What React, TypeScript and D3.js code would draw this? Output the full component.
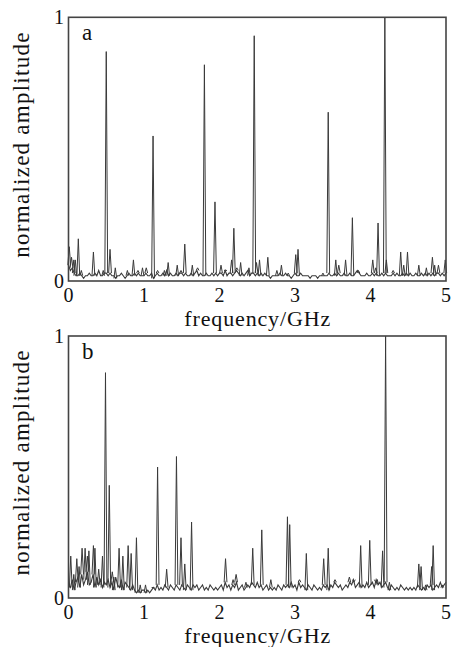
import React from 'react';
import * as d3 from 'd3';

// frequency grid step for the noise floor (GHz)
const STEP = 0.025;

const xTicks = ['0', '1', '2', '3', '4', '5'];
const yTicks = ['0', '1'];

// panel a: noise floor, 0 .. 5 GHz every 0.025
const noiseA = [
  0.06, 0.04, 0.05, 0.03, 0.02, 0.02, 0.03, 0.02, 0.01, 0.02, 0.02, 0.03, 0.02, 0.02, 0.03, 0.02, 0.04, 0.02, 0.02, 0.03,
  0.03, 0.02, 0.03, 0.02, 0.02, 0.01, 0.02, 0.02, 0.03, 0.02, 0.01, 0.02, 0.03, 0.02, 0.02, 0.03, 0.02, 0.03, 0.02, 0.02,
  0.02, 0.03, 0.02, 0.02, 0.03, 0.01, 0.02, 0.03, 0.02, 0.02, 0.03, 0.02, 0.04, 0.02, 0.03, 0.02, 0.02, 0.03, 0.02, 0.03,
  0.03, 0.02, 0.03, 0.02, 0.02, 0.03, 0.02, 0.03, 0.04, 0.02, 0.03, 0.02, 0.02, 0.03, 0.02, 0.02, 0.03, 0.02, 0.03, 0.02,
  0.03, 0.03, 0.02, 0.04, 0.02, 0.03, 0.03, 0.02, 0.03, 0.04, 0.03, 0.02, 0.03, 0.02, 0.03, 0.04, 0.02, 0.03, 0.03, 0.02,
  0.03, 0.02, 0.03, 0.02, 0.03, 0.02, 0.02, 0.01, 0.02, 0.02, 0.02, 0.02, 0.03, 0.02, 0.02, 0.03, 0.02, 0.02, 0.01, 0.02,
  0.03, 0.02, 0.02, 0.03, 0.02, 0.02, 0.02, 0.02, 0.01, 0.02, 0.02, 0.02, 0.01, 0.02, 0.02, 0.02, 0.02, 0.02, 0.03, 0.02,
  0.02, 0.03, 0.02, 0.03, 0.02, 0.02, 0.03, 0.02, 0.02, 0.03, 0.02, 0.02, 0.03, 0.04, 0.03, 0.02, 0.02, 0.02, 0.03, 0.02,
  0.02, 0.03, 0.02, 0.03, 0.02, 0.02, 0.03, 0.02, 0.03, 0.02, 0.02, 0.02, 0.03, 0.02, 0.03, 0.02, 0.02, 0.03, 0.02, 0.03,
  0.02, 0.03, 0.02, 0.02, 0.03, 0.02, 0.02, 0.03, 0.02, 0.03, 0.02, 0.03, 0.02, 0.03, 0.02, 0.03, 0.03, 0.02, 0.03, 0.02, 0.03,
];

// panel a: spectral lines [GHz, amplitude]
const peaksA: [number, number][] = [
  [0.01, 0.13], [0.04, 0.09], [0.07, 0.08], [0.09, 0.08], [0.13, 0.16], [0.17, 0.04], [0.33, 0.11], [0.46, 0.04],
  [0.5, 0.87], [0.55, 0.12], [0.62, 0.05], [0.78, 0.04], [0.86, 0.08], [0.92, 0.04], [0.98, 0.05], [1.03, 0.05],
  [1.12, 0.55], [1.18, 0.04], [1.27, 0.04], [1.32, 0.07], [1.44, 0.06], [1.49, 0.04], [1.54, 0.14], [1.64, 0.06],
  [1.71, 0.05], [1.8, 0.82], [1.94, 0.3], [2.02, 0.06], [2.08, 0.04], [2.16, 0.08], [2.19, 0.2], [2.23, 0.05],
  [2.28, 0.07], [2.39, 0.05], [2.46, 0.93], [2.49, 0.07], [2.53, 0.08], [2.64, 0.09], [2.76, 0.04], [2.82, 0.06],
  [2.91, 0.03], [3.01, 0.1], [3.04, 0.12], [3.37, 0.03], [3.44, 0.64], [3.54, 0.08], [3.58, 0.06], [3.67, 0.08],
  [3.76, 0.24], [3.84, 0.04], [4.03, 0.08], [4.07, 0.05], [4.1, 0.22], [4.19, 1.0], [4.21, 0.08], [4.3, 0.04],
  [4.4, 0.11], [4.44, 0.06], [4.49, 0.11], [4.64, 0.06], [4.74, 0.05], [4.82, 0.09], [4.85, 0.06], [4.9, 0.06],
  [4.99, 0.08],
];

// panel b: noise floor, 0 .. 5 GHz every 0.025
const noiseB = [
  0.05, 0.04, 0.07, 0.03, 0.06, 0.08, 0.04, 0.09, 0.05, 0.07, 0.1, 0.05, 0.06, 0.09, 0.04, 0.08, 0.05, 0.07, 0.04, 0.06,
  0.05, 0.07, 0.04, 0.06, 0.03, 0.08, 0.05, 0.04, 0.07, 0.03, 0.06, 0.05, 0.04, 0.03, 0.05, 0.03, 0.02, 0.03, 0.02, 0.03,
  0.03, 0.02, 0.03, 0.02, 0.03, 0.04, 0.03, 0.05, 0.03, 0.04, 0.03, 0.05, 0.04, 0.03, 0.05, 0.04, 0.03, 0.05, 0.04, 0.03,
  0.05, 0.04, 0.03, 0.05, 0.04, 0.03, 0.05, 0.04, 0.05, 0.03, 0.04, 0.05, 0.03, 0.04, 0.03, 0.05, 0.04, 0.03, 0.04, 0.03,
  0.04, 0.05, 0.03, 0.06, 0.04, 0.05, 0.03, 0.05, 0.04, 0.06, 0.03, 0.04, 0.05, 0.03, 0.04, 0.05, 0.04, 0.06, 0.05, 0.04,
  0.06, 0.04, 0.05, 0.03, 0.04, 0.05, 0.03, 0.04, 0.03, 0.04, 0.03, 0.05, 0.04, 0.03, 0.05, 0.04, 0.05, 0.04, 0.06, 0.04,
  0.05, 0.03, 0.06, 0.04, 0.05, 0.04, 0.03, 0.05, 0.04, 0.03, 0.05, 0.04, 0.03, 0.04, 0.03, 0.05, 0.04, 0.05, 0.03, 0.05,
  0.04, 0.06, 0.05, 0.04, 0.05, 0.03, 0.04, 0.05, 0.04, 0.06, 0.05, 0.07, 0.04, 0.05, 0.06, 0.04, 0.05, 0.04, 0.06, 0.04,
  0.05, 0.06, 0.04, 0.07, 0.05, 0.06, 0.04, 0.05, 0.06, 0.04, 0.03, 0.05, 0.04, 0.03, 0.04, 0.03, 0.05, 0.04, 0.03, 0.04,
  0.03, 0.04, 0.03, 0.04, 0.03, 0.05, 0.04, 0.03, 0.04, 0.03, 0.05, 0.04, 0.05, 0.03, 0.04, 0.05, 0.04, 0.06, 0.04, 0.05, 0.06,
];

// panel b: spectral lines [GHz, amplitude]
const peaksB: [number, number][] = [
  [0.03, 0.16], [0.07, 0.09], [0.11, 0.15], [0.14, 0.12], [0.18, 0.19], [0.22, 0.19], [0.25, 0.16], [0.27, 0.18],
  [0.33, 0.2], [0.35, 0.19], [0.4, 0.11], [0.45, 0.16], [0.49, 0.86], [0.54, 0.43], [0.58, 0.1], [0.6, 0.08],
  [0.67, 0.19], [0.72, 0.16], [0.79, 0.2], [0.83, 0.17], [0.9, 0.23], [0.95, 0.05], [1.02, 0.05], [1.12, 0.04],
  [1.18, 0.5], [1.3, 0.11], [1.43, 0.54], [1.49, 0.23], [1.54, 0.13], [1.63, 0.29], [2.08, 0.15], [2.18, 0.07],
  [2.22, 0.09], [2.35, 0.06], [2.44, 0.19], [2.56, 0.26], [2.68, 0.07], [2.9, 0.31], [2.93, 0.28], [3.06, 0.07],
  [3.15, 0.17], [3.38, 0.15], [3.44, 0.19], [3.53, 0.07], [3.72, 0.08], [3.78, 0.06], [3.87, 0.2], [3.99, 0.22],
  [4.07, 0.06], [4.09, 0.07], [4.16, 0.18], [4.2, 1.0], [4.25, 0.06], [4.64, 0.13], [4.67, 0.12], [4.73, 0.05],
  [4.81, 0.12], [4.83, 0.2], [4.95, 0.05],
];

const W = 453;
const H = 647;
const LEFT = 68.5;
const RIGHT = 446;
const SERIF = '"Liberation Serif", "Times New Roman", Times, serif';
const INK = '#3a3a3a';

type PanelProps = {
  top: number;
  bottom: number;
  letter: string;
  noise: number[];
  peaks: [number, number][];
};

const Panel = ({ top, bottom, letter, noise, peaks }: PanelProps) => {
  const x = d3.scaleLinear().domain([0, 5]).range([LEFT, RIGHT]);
  const y = d3.scaleLinear().domain([0, 1]).range([bottom, top]);

  const line = d3
    .line<number>()
    .x((_, i) => x(i * STEP))
    .y(d => y(d));

  // each spectral line: narrow spike standing on the noise floor under it
  const spike = ([f, a]: [number, number]) => {
    const base = noise[Math.round(f / STEP)] ?? 0.02;
    const p = d3.path();
    p.moveTo(x(f) - 1.4, y(base));
    p.lineTo(x(f), y(a));
    p.lineTo(x(f) + 1.4, y(base));
    return p.toString();
  };

  return (
    <g>
      <path d={line(noise) ?? ''} fill="none" stroke={INK} strokeWidth={1.1} />
      {peaks.map((d, i) => (
        <path key={i} d={spike(d)} fill="none" stroke={INK} strokeWidth={1} strokeLinejoin="miter" />
      ))}
      <rect
        x={LEFT}
        y={top}
        width={RIGHT - LEFT}
        height={bottom - top}
        fill="none"
        stroke="#444"
        strokeWidth={1.6}
      />
      {xTicks.map(t => (
        <text key={t} x={x(+t)} y={bottom + 21} textAnchor="middle" fontSize={20} fontFamily={SERIF} fill="#111">
          {t}
        </text>
      ))}
      {yTicks.map(t => (
        <text key={t} x={64} y={y(+t) + 7} textAnchor="end" fontSize={20} fontFamily={SERIF} fill="#111">
          {t}
        </text>
      ))}
      <text x={82} y={top + 23} fontSize={23} fontFamily={SERIF} fill="#111">
        {letter}
      </text>
      <text
        x={(LEFT + RIGHT) / 2}
        y={bottom + 45}
        textAnchor="middle"
        fontSize={22}
        fontFamily={SERIF}
        fill="#111"
        textLength={146}
        lengthAdjust="spacing"
      >
        frequency/GHz
      </text>
      <text
        transform={`translate(29, ${(top + bottom) / 2 - 4}) rotate(-90)`}
        textAnchor="middle"
        fontSize={23}
        fontFamily={SERIF}
        fill="#111"
        textLength={225}
        lengthAdjust="spacing"
      >
        normalized amplitude
      </text>
    </g>
  );
};

export default function App() {
  return (
    <svg width={W} height={H} style={{ position: 'absolute', left: 0, top: 0, background: '#fff' }}>
      <Panel top={17.3} bottom={281} letter="a" noise={noiseA} peaks={peaksA} />
      <Panel top={336} bottom={598} letter="b" noise={noiseB} peaks={peaksB} />
    </svg>
  );
}
